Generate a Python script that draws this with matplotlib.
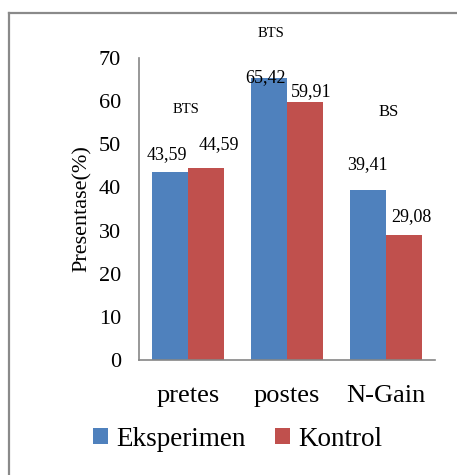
import matplotlib
matplotlib.use("Agg")
import matplotlib.pyplot as plt
import numpy as np
from matplotlib.lines import Line2D

categories = ["pretes", "postes", "N-Gain"]
eksperimen = [43.59, 65.42, 39.41]
kontrol = [44.59, 59.91, 29.08]
series_names = ["Eksperimen", "Kontrol"]
eks_labels = ["43,59", "65,42", "39,41"]
kon_labels = ["44,59", "59,91", "29,08"]
sig_labels = ["BTS", "BTS", "BS"]

plt.rcParams['font.family'] = ['Liberation Serif', 'DejaVu Serif']

fig = plt.figure(figsize=(4.57, 4.75), dpi=100)
ax = fig.add_axes([139/457, 1-360/475, (435-139)/457, (360-58)/475])

blue = "#4F81BD"
red = "#C0504D"
x = np.arange(len(categories))
w = 0.365
b1 = ax.bar(x - w/2, eksperimen, w, color=blue, label=series_names[0])
b2 = ax.bar(x + w/2, kontrol, w, color=red, label=series_names[1])

ax.set_xlim(-0.5, 2.5)
ax.set_ylim(0, 70)
ax.set_yticks(range(0, 71, 10))
ax.set_xticks(x)
ax.set_xticklabels(categories, fontsize=19)
ax.tick_params(axis='y', length=0, pad=13, labelsize=16)
ax.tick_params(axis='x', length=0, pad=18)
for s in ['top', 'right']:
    ax.spines[s].set_visible(False)
for s in ['left', 'bottom']:
    ax.spines[s].set_color('#868686')
    ax.spines[s].set_linewidth(1.2)
ax.set_ylabel("Presentase(%)", fontsize=16, labelpad=5)

eks_off = [(-3, 17), (-3, 0), (0, 25)]
kon_off = [(13, 23), (6, 10), (8, 18)]
for i in range(len(categories)):
    ax.annotate(eks_labels[i], (x[i] - w/2, eksperimen[i]), xytext=eks_off[i],
                textcoords='offset pixels', ha='center', va='center', fontsize=13)
    ax.annotate(kon_labels[i], (x[i] + w/2, kontrol[i]), xytext=kon_off[i],
                textcoords='offset pixels', ha='center', va='center', fontsize=13)

sig_pos = [(-0.02, 58.0), (0.84, 75.6), (2.03, 57.5)]
sig_size = [10.5, 10.5, 12]
for (sx, sy), t, fs in zip(sig_pos, sig_labels, sig_size):
    ax.text(sx, sy, t, ha='center', va='center', fontsize=fs, clip_on=False)

fig.legend(handles=[b1, b2], labels=series_names, loc='center',
           bbox_to_anchor=(0.52, 1-439/475), ncol=2, frameon=False,
           fontsize=19.5, handlelength=0.55, handleheight=0.55, handletextpad=0.3,
           columnspacing=1.1)

# outer border (top and left edges visible)
fig.add_artist(Line2D([9/457, 1.0], [1-13/475, 1-13/475], color='#8a8a8a', lw=1.6,
                      transform=fig.transFigure))
fig.add_artist(Line2D([9/457, 9/457], [1-13/475, 0.0], color='#8a8a8a', lw=1.6,
                      transform=fig.transFigure))

fig.savefig("out.png", dpi=100)
